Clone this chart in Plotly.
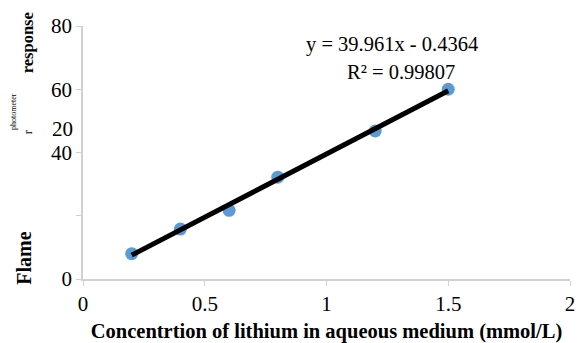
import plotly.graph_objects as go

# Data
conc = [0.2, 0.4, 0.6, 0.8, 1.2, 1.5]
response = [8.0, 15.8, 21.7, 32.2, 46.8, 60.0]
slope = 39.961
intercept = -0.4364
x_ticks = [0, 0.5, 1, 1.5, 2]
x_tick_text = ["0", "0.5", "1", "1.5", "2"]
y_ticks = [0, 20, 40, 60, 80]
y_tick_text = ["0", "", "40", "60", "80"]

fit_x = [min(conc), max(conc)]
fit_y = [slope * v + intercept for v in fit_x]

SERIF = "Liberation Serif, Times New Roman, serif"

fig = go.Figure()
fig.add_trace(go.Scatter(x=conc, y=response, mode="markers",
                         marker=dict(color="#5B9BD5", size=13, line=dict(width=0)),
                         showlegend=False))
fig.add_trace(go.Scatter(x=fit_x, y=fit_y, mode="lines",
                         line=dict(color="black", width=5), showlegend=False))

fig.update_layout(
    width=579, height=343,
    margin=dict(l=83, r=9, t=26, b=64),
    paper_bgcolor="white", plot_bgcolor="white",
    font=dict(family=SERIF, size=21, color="black"),
    xaxis=dict(range=[0, 2], tickvals=x_ticks, ticktext=x_tick_text,
               automargin=False,
               showgrid=False, zeroline=False, showline=True,
               linecolor="#d0d0d0", linewidth=1.5,
               ticks="outside", ticklen=5, tickcolor="#d0d0d0",
               tickfont=dict(size=21),
               title=dict(text="<b>Concentrtion of lithium in aqueous medium (mmol/L)</b>",
                          font=dict(size=20.5), standoff=10)),
    yaxis=dict(range=[0, 80], tickvals=y_ticks, ticktext=y_tick_text,
               automargin=False,
               showgrid=False, zeroline=False, showline=True,
               linecolor="#d0d0d0", linewidth=1.5,
               ticks="outside", ticklen=5, tickcolor="#d0d0d0",
               tickfont=dict(size=21)),
)

# Garbled labels as in the reference scan
fig.add_annotation(text="20", xref="paper", yref="y", x=0, y=47.3,
                   xanchor="right", xshift=-8, showarrow=False,
                   font=dict(size=21))
fig.add_annotation(text="<b>response</b>", xref="paper", yref="paper",
                   x=0, y=1.06, xanchor="center", yanchor="top", xshift=-56,
                   textangle=-90, showarrow=False, font=dict(size=16.5))
fig.add_annotation(text="<b>Flame</b>", xref="paper", yref="paper",
                   x=0, y=0.08, xanchor="center", yanchor="middle", xshift=-59,
                   textangle=-90, showarrow=False, font=dict(size=20))
fig.add_annotation(text="r", xref="paper", yref="paper",
                   x=0, y=0.58, xanchor="center", yanchor="middle", xshift=-55,
                   textangle=-90, showarrow=False, font=dict(size=12))
fig.add_annotation(text="photometer", xref="paper", yref="paper",
                   x=0, y=0.66, xanchor="center", yanchor="middle", xshift=-70,
                   textangle=-90, showarrow=False, font=dict(size=8))

fig.add_annotation(text="y = 39.961x - 0.4364", xref="paper", yref="paper",
                   x=0.635, y=0.925, xanchor="center", yanchor="middle",
                   showarrow=False, font=dict(size=20.5))
fig.add_annotation(text="R² = 0.99807", xref="paper", yref="paper",
                   x=0.653, y=0.82, xanchor="center", yanchor="middle",
                   showarrow=False, font=dict(size=20.5))

fig.write_html("out.html", config={"displayModeBar": False},
               post_script="document.body.style.margin='0';")
